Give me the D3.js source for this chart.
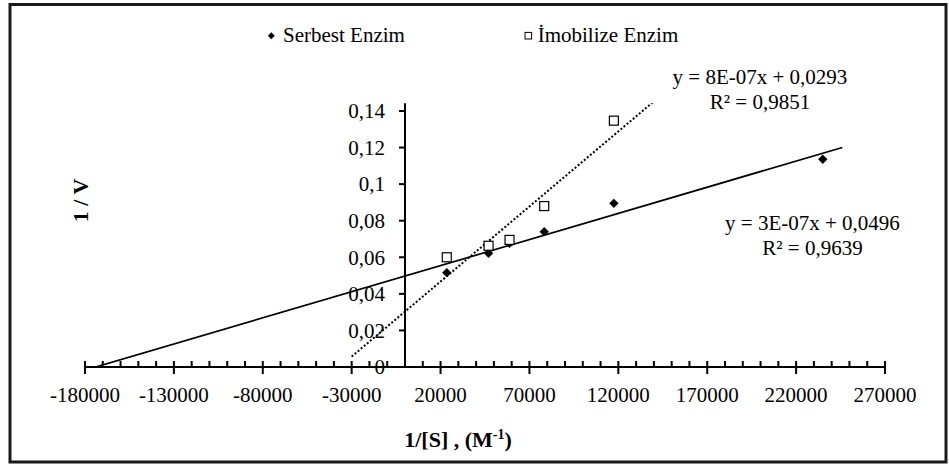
<!DOCTYPE html>
<html>
<head>
<meta charset="utf-8">
<script src="https://cdn.jsdelivr.net/npm/d3@7"></script>
<style>
  body { margin: 0; background: #fff; }
  svg text { font-family: "Liberation Serif", "Times New Roman", serif; fill: #000; }
</style>
</head>
<body>
<div id="chart"></div>
<script>
// 1/[S] values (M^-1), shared by both series
const invS = [23500, 47000, 58800, 78300, 117500, 235000];
// 1/V values
const serbestV = [0.0516, 0.0622, 0.0676, 0.0740, 0.0895, 0.1136];
const imobilizeV = [0.0600, 0.0663, 0.0695, 0.0880, 0.1347];

const seriesNames = ['Serbest Enzim', 'İmobilize Enzim'];
const xTicks = [-180000, -130000, -80000, -30000, 20000, 70000, 120000, 170000, 220000, 270000];
const yTicks = [0, 0.02, 0.04, 0.06, 0.08, 0.1, 0.12, 0.14];
// trendline forecast range in data units [from, to]
const serbestFitRange = [-200000, 246000];
const imobilizeFitRange = [-30000, 141000];
const serbestEq = ['y = 3E-07x + 0,0496', 'R² = 0,9639'];
const imobilizeEq = ['y = 8E-07x + 0,0293', 'R² = 0,9851'];

const width = 949, height = 464;

const svg = d3.select('#chart')
  .append('svg')
  .attr('width', width)
  .attr('height', height);

// outer frame
svg.append('rect')
  .attr('x', 10).attr('y', 4.5)
  .attr('width', 936).attr('height', 457.5)
  .attr('fill', 'none')
  .attr('stroke', '#1a1a1a')
  .attr('stroke-width', 3);

const x = d3.scaleLinear().domain([-180000, 270000]).range([85, 885]);
const y = d3.scaleLinear().domain([0, 0.1442]).range([367, 103.3]);

// least squares fit
function fit(xs, ys) {
  const n = ys.length;
  const mx = d3.mean(xs.slice(0, n)), my = d3.mean(ys);
  let sxy = 0, sxx = 0;
  for (let i = 0; i < n; i++) {
    sxy += (xs[i] - mx) * (ys[i] - my);
    sxx += (xs[i] - mx) * (xs[i] - mx);
  }
  const slope = sxy / sxx;
  return { slope, intercept: my - slope * mx };
}

svg.append('clipPath').attr('id', 'plot')
  .append('rect')
  .attr('x', x.range()[0]).attr('y', y.range()[1])
  .attr('width', x.range()[1] - x.range()[0])
  .attr('height', y.range()[0] - y.range()[1]);

const plot = svg.append('g').attr('clip-path', 'url(#plot)');

function trend(vals, range, dash, sw) {
  const f = fit(invS, vals);
  plot.append('line')
    .attr('x1', x(range[0])).attr('y1', y(f.slope * range[0] + f.intercept))
    .attr('x2', x(range[1])).attr('y2', y(f.slope * range[1] + f.intercept))
    .attr('stroke', '#000')
    .attr('stroke-width', sw)
    .attr('stroke-dasharray', dash);
}
trend(serbestV, serbestFitRange, null, 1.7);
trend(imobilizeV, imobilizeFitRange, '2,2', 2);

// x axis
const xAxis = svg.append('g');
xAxis.append('line')
  .attr('x1', x(-180000)).attr('x2', x(270000))
  .attr('y1', y(0)).attr('y2', y(0))
  .attr('stroke', '#000').attr('stroke-width', 2);
xAxis.selectAll('.minor')
  .data(d3.range(-180000, 270001, 10000).filter(v => !xTicks.includes(v)))
  .join('line')
  .attr('x1', d => x(d)).attr('x2', d => x(d))
  .attr('y1', y(0) - 6).attr('y2', y(0))
  .attr('stroke', '#000').attr('stroke-width', 2);
xAxis.selectAll('.major')
  .data(xTicks)
  .join('line')
  .attr('x1', d => x(d)).attr('x2', d => x(d))
  .attr('y1', y(0) - 6).attr('y2', y(0) + 7)
  .attr('stroke', '#000').attr('stroke-width', 2);
xAxis.selectAll('text')
  .data(xTicks)
  .join('text')
  .attr('x', d => x(d))
  .attr('y', 401.5)
  .attr('text-anchor', 'middle')
  .attr('font-size', 21)
  .text(d => String(d));

// y axis, crossing at x = 0
const yAxis = svg.append('g');
yAxis.append('line')
  .attr('x1', x(0)).attr('x2', x(0))
  .attr('y1', y(0)).attr('y2', y.range()[1])
  .attr('stroke', '#000').attr('stroke-width', 2);
yAxis.selectAll('.tick')
  .data(yTicks)
  .join('line')
  .attr('x1', x(0) - 6).attr('x2', x(0))
  .attr('y1', d => y(d)).attr('y2', d => y(d))
  .attr('stroke', '#000').attr('stroke-width', 2);
yAxis.selectAll('text')
  .data(yTicks)
  .join('text')
  .attr('x', 385)
  .attr('y', d => y(d))
  .attr('dy', '0.35em')
  .attr('text-anchor', 'end')
  .attr('font-size', 21)
  .text(d => String(+d.toFixed(2)).replace('.', ','));

// markers
const diamond = d3.symbol().type(d3.symbolDiamond2).size(56);
svg.append('g').selectAll('path')
  .data(invS.map((v, i) => [v, serbestV[i]]))
  .join('path')
  .attr('d', diamond)
  .attr('transform', d => `translate(${x(d[0])},${y(d[1])})`)
  .attr('fill', '#000');

svg.append('g').selectAll('rect')
  .data(imobilizeV.map((v, i) => [invS[i], v]))
  .join('rect')
  .attr('x', d => x(d[0]) - 4.5).attr('y', d => y(d[1]) - 4.5)
  .attr('width', 9).attr('height', 9)
  .attr('fill', '#fff')
  .attr('stroke', '#000').attr('stroke-width', 1.2);

// legend
const legend = svg.append('g');
legend.append('path')
  .attr('d', d3.symbol().type(d3.symbolDiamond2).size(30))
  .attr('transform', 'translate(271.3,35.7)')
  .attr('fill', '#000');
legend.append('text').attr('x', 283).attr('y', 42).attr('font-size', 21).text(seriesNames[0]);
legend.append('rect')
  .attr('x', 525).attr('y', 32.4).attr('width', 6.6).attr('height', 6.6)
  .attr('fill', '#fff').attr('stroke', '#000').attr('stroke-width', 1);
legend.append('text').attr('x', 537.7).attr('y', 42).attr('font-size', 21).text(seriesNames[1]);

// trendline equations
function eqLabel(lines, cx, y0) {
  svg.append('g').selectAll('text')
    .data(lines)
    .join('text')
    .attr('x', cx)
    .attr('y', (d, i) => y0 + i * 25)
    .attr('text-anchor', 'middle')
    .attr('font-size', 21)
    .text(d => d);
}
eqLabel(imobilizeEq, 760, 84);
eqLabel(serbestEq, 812.5, 230);

// axis titles
svg.append('text')
  .attr('transform', 'translate(88,200.5) rotate(-90)')
  .attr('text-anchor', 'middle')
  .attr('font-size', 22)
  .attr('font-weight', 'bold')
  .text('1 / V');

const xt = svg.append('text')
  .attr('x', 458).attr('y', 447)
  .attr('text-anchor', 'middle')
  .attr('font-size', 22)
  .attr('font-weight', 'bold');
xt.append('tspan').text('1/[S] ,  (M');
xt.append('tspan').attr('font-size', 14).attr('dy', -8).text('-1');
xt.append('tspan').attr('dy', 8).text(')');
</script>
</body>
</html>
